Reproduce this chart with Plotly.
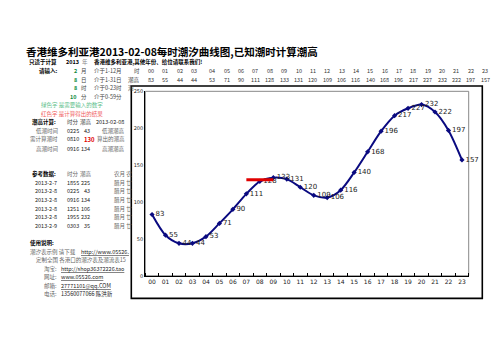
import plotly.graph_objects as go

W, H = 503, 356
FONT = "Noto Sans CJK SC"

# ---------------- data ----------------
hour_labels = ["00", "01", "02", "03", "04", "05", "06", "07", "08", "09", "10", "11",
               "12", "13", "14", "15", "16", "17", "18", "19", "20", "21", "22", "23"]
hours = list(range(24))
tide = [83, 55, 44, 44, 53, 71, 90, 111, 128, 133, 131, 120,
        109, 106, 116, 140, 168, 196, 217, 227, 232, 222, 197, 157]
calc_x = [7, 9]
calc_y = [130, 130]
y_ticks = [0, 50, 100, 150, 200, 250]

title_text = "香港维多利亚港2013-02-08每时潮汐曲线图,已知潮时计算潮高"
sub_parts = ["只适于计算", "2013", "年", "香港维多利亚港,其他年份、给位请联系我们!"]
input_title = "请输入:"
input_values = ["2", "8", "8", "10"]
input_units = ["月", "日", "时", "分"]
input_ranges = ["介于1-12月", "介于1-31日", "介于0-23时", "介于0-59分"]
row_heads = ["时", "潮高", "潮"]
note_green = "绿色字 是需要输入的数字"
note_red = "红色字 是计算得出的结果"
calc_head = ["潮高计算:", "时分", "潮高", "2013-02-08"]
calc_labels = ["低潮时间", "需计算潮时", "高潮时间"]
calc_times = ["0225", "0810", "0916"]
calc_heights = ["43", "130", "134"]
calc_notes = ["低潮潮高", "算出的潮高", "高潮潮高"]
ref_head = ["参考数据:", "时分", "潮高", "农月 农"]
ref_dates = ["2013-2-7", "2013-2-8", "2013-2-8", "2013-2-8", "2013-2-8", "2013-2-9"]
ref_times = ["1855", "0225", "0916", "1251", "1955", "0303"]
ref_heights = ["225", "43", "134", "106", "232", "35"]
ref_lunar = ["腊月 廿", "腊月 廿", "腊月 廿", "腊月 廿", "腊月 廿", "腊月 廿"]
usage_title = "使用说明:"
usage_lines = [
    ("潮汐表示例 请下载 ", "http://www.05526."),
    ("定制全国 各港口的潮汐表及潮流表15", ""),
    ("淘宝: ", "http://shop36372226.tao"),
    ("网址: ", "www.05526.com"),
    ("邮箱: ", "27771101@qq.COM"),
    ("电话: ", "13560077066 陈洪新"),
]

# ---------------- figure ----------------
fig = go.Figure()
fig.add_trace(go.Scatter(
    x=hours, y=tide, mode="lines+markers+text",
    line=dict(color="#0a0a80", width=2, shape="spline", smoothing=0.8),
    marker=dict(symbol="diamond", size=4, color="#0a0a80"),
    text=[str(v) for v in tide], textposition="middle right",
    textfont=dict(size=7, color="#222", family="DejaVu Sans"),
    hoverinfo="skip", cliponaxis=False,
))
fig.add_trace(go.Scatter(
    x=calc_x, y=calc_y, mode="lines",
    line=dict(color="#e00000", width=3), hoverinfo="skip",
))

ann = []
S = 5.5  # small text size


def txt(s, x, y, size=S, color="#444", anchor="left", family=FONT):
    ann.append(dict(text=s, x=x / W, y=1 - y / H, xref="paper", yref="paper",
                    xanchor=anchor, yanchor="middle", showarrow=False,
                    borderpad=0, font=dict(size=size, color=color, family=family)))


# title
txt("<b>" + title_text + "</b>", 17, 41.5, size=10.5, color="#000")
# subtitle row
txt("<b>" + sub_parts[0] + "</b>", 20, 52, color="#000")
txt("<b>" + sub_parts[1] + "</b>", 57, 52, color="#000")
txt(sub_parts[2], 73, 52, color="#888")
txt("<b>" + sub_parts[3] + "</b>", 85, 52, color="#000")

# input rows
row_y = [61, 70, 78.5, 87]
txt("<b>" + input_title + "</b>", 30, row_y[0], color="#000")
for i in range(4):
    txt("<b>" + input_values[i] + "</b>", 69.5, row_y[i], color="#0a8a3a", anchor="right")
    txt(input_units[i], 72, row_y[i])
    txt(input_ranges[i], 85, row_y[i])
for i in range(3):
    txt(row_heads[i], 119 if i else 125, row_y[i])

col_x = [143 + 14.35 * i + (4 if i >= 4 else 0) for i in range(24)]
for i in range(24):
    txt(hour_labels[i], col_x[i], row_y[0], size=5.5, color="#333", anchor="center")
    txt(str(tide[i]), col_x[i], row_y[1], size=5.5, color="#333", anchor="center")

txt(note_green, 32, 96, color="#5cc08a")
txt(note_red, 32, 104.7, color="#f06060")

# calc block
txt("<b>" + calc_head[0] + "</b>", 22.5, 113.3, color="#000")
txt(calc_head[1], 58, 113.3)
txt(calc_head[2], 71, 113.3)
txt(calc_head[3], 87, 113.3, size=5.5, color="#222")
calc_rows = [122, 130.7, 140]
calc_lx = [26.5, 20.5, 26.5]
for i in range(3):
    txt(calc_labels[i], calc_lx[i], calc_rows[i], color="#666")
    txt(calc_times[i], 58, calc_rows[i], size=5.5, color="#222")
    if i == 1:
        txt("<b>" + calc_heights[i] + "</b>", 75, calc_rows[i], size=6, color="#e00000")
    else:
        txt(calc_heights[i], 82.5, calc_rows[i], size=5.5, color="#222", anchor="right")
    txt(calc_notes[i], 93 if i != 1 else 87.5, calc_rows[i], color="#666")

# reference block
txt("<b>" + ref_head[0] + "</b>", 22.5, 165.7, color="#000")
txt(ref_head[1], 58, 165.7, color="#666")
txt(ref_head[2], 71, 165.7, color="#666")
txt(ref_head[3], 105, 165.7, color="#666")
ref_rows = [174.7, 183, 192, 201, 210, 219]
for i in range(6):
    txt(ref_dates[i], 26, ref_rows[i], size=5.5, color="#222")
    txt(ref_times[i], 58, ref_rows[i], size=5.5, color="#222")
    txt(ref_heights[i], 82.5, ref_rows[i], size=5.5, color="#222", anchor="right")
    txt(ref_lunar[i], 105, ref_rows[i], color="#666")

# usage block
txt("<b>" + usage_title + "</b>", 20.5, 236, color="#000")
usage_rows = [245, 253.3, 262, 271, 279.3, 287.7]
usage_x = [20.5, 26.5, 35, 35, 35, 35]
link_x = [71.5, 0, 52, 52, 52, 52]
for i, (a, b) in enumerate(usage_lines):
    txt(a, usage_x[i], usage_rows[i], color="#666")
    if b:
        s = b if i == 5 else "<u>" + b + "</u>"
        txt(s, link_x[i], usage_rows[i], size=5.5, color="#222")

# plot area geometry (pixels)
PL, PR, PT, PB = 137.3, 460.7, 81.7, 269.3

shapes = [
    dict(type="rect", xref="paper", yref="paper",
         x0=123.3 / W, x1=474.3 / W, y0=1 - 292.3 / H, y1=1 - 76.3 / H,
         line=dict(color="#000", width=1.6), fillcolor="rgba(0,0,0,0)", layer="below"),
    dict(type="rect", xref="paper", yref="paper",
         x0=PL / W, x1=PR / W, y0=1 - PB / H, y1=1 - PT / H,
         line=dict(color="#888", width=1), fillcolor="rgba(0,0,0,0)", layer="below"),
]

fig.update_layout(
    width=W, height=H, autosize=False,
    margin=dict(l=0, r=0, t=0, b=0),
    paper_bgcolor="white", plot_bgcolor="white",
    showlegend=False,
    annotations=ann, shapes=shapes,
    xaxis=dict(domain=[PL / W, PR / W], range=[-0.5, 23.5],
               tickmode="array", tickvals=hours, ticktext=hour_labels,
               ticks="", showgrid=False, zeroline=False,
               showline=True, linecolor="#000", linewidth=1.2,
               tickfont=dict(size=6, color="#222", family="DejaVu Sans"),
               minor=dict(tickmode="linear", tick0=0.5, dtick=1, ticks="inside",
                          ticklen=3, tickcolor="#000", tickwidth=1),
               fixedrange=True),
    yaxis=dict(domain=[1 - PB / H, 1 - PT / H], range=[0, 250],
               tickmode="array", tickvals=y_ticks,
               ticks="", showgrid=False, zeroline=False,
               showline=True, linecolor="#000", linewidth=1.2,
               tickfont=dict(size=5, color="#222", family="DejaVu Sans"),
               fixedrange=True),
)

fig.write_html("out.html")
